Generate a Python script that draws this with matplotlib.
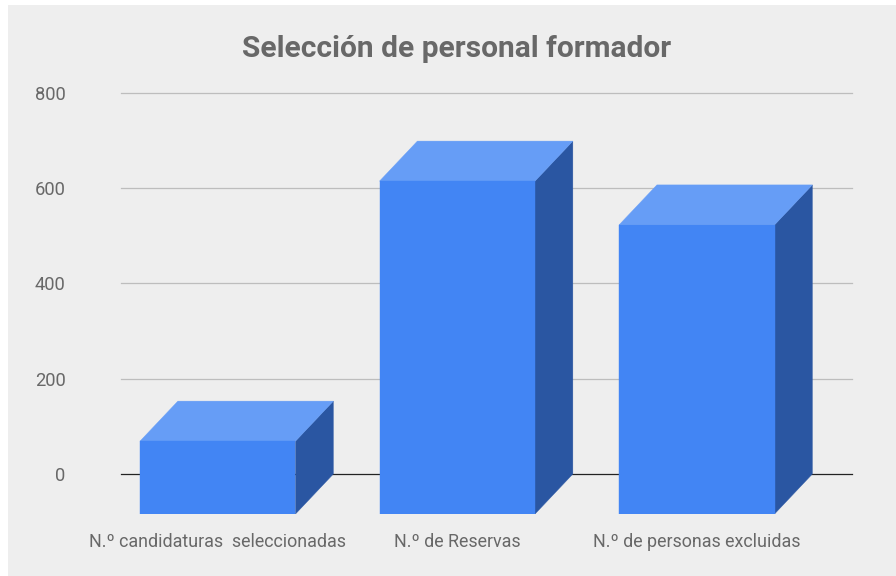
"""
plot.py — 3D-looking bar chart for the trainer selection figures.
"""

import matplotlib
matplotlib.use("Agg")
import matplotlib.pyplot as plt
from matplotlib.patches import Polygon, Rectangle

OUT_PNG = "out.png"
W, H = 896, 576

CATEGORIES = ["N.º candidaturas  seleccionadas", "N.º de Reservas", "N.º de personas excluidas"]
VALUES = [69, 615, 523]
Y_TICKS = [0, 200, 400, 600, 800]

BG = "#eeeeee"
TEXT = "#686868"
FRONT = "#4285f4"
TOP = "#669df6"
SIDE = "#2a56a2"

BAR_WIDTH = 0.649
DEPTH_X = 0.158
DEPTH_Y = 84
BASE = -84


def main():
    plt.rcParams["font.family"] = ["Roboto", "DejaVu Sans"]

    fig = plt.figure(figsize=(W / 100, H / 100), dpi=100, facecolor="white")
    # grey panel runs off the right and bottom edges, white strip left and top
    fig.add_artist(Rectangle((8 / W, 0), 888 / W, 1 - 5 / H, transform=fig.transFigure,
                             facecolor=BG, edgecolor="none", zorder=-1))

    ax = fig.add_axes([121 / W, 1 - 514 / H, 731 / W, 421 / H])
    ax.patch.set_visible(False)
    ax.set_xlim(-0.404, 2.648)
    ax.set_ylim(BASE, 800)
    for s in ax.spines.values():
        s.set_visible(False)

    for t in Y_TICKS:
        ax.axhline(t, color="#222222" if t == 0 else "#bdbdbd", linewidth=0.9, zorder=1, clip_on=False)

    for i, v in enumerate(VALUES):
        x0 = i - BAR_WIDTH / 2
        x1 = i + BAR_WIDTH / 2
        ax.add_patch(Polygon([(x1, BASE), (x1 + DEPTH_X, BASE + DEPTH_Y),
                              (x1 + DEPTH_X, v + DEPTH_Y), (x1, v)],
                             facecolor=SIDE, edgecolor=SIDE, linewidth=0.3, zorder=3))
        ax.add_patch(Polygon([(x0, v), (x1, v), (x1 + DEPTH_X, v + DEPTH_Y), (x0 + DEPTH_X, v + DEPTH_Y)],
                             facecolor=TOP, edgecolor=TOP, linewidth=0.3, zorder=3))
        ax.add_patch(Rectangle((x0, BASE), BAR_WIDTH, v - BASE, facecolor=FRONT, edgecolor=FRONT,
                               linewidth=0.3, zorder=4))

    ax.set_xticks(range(len(CATEGORIES)))
    ax.set_xticklabels(CATEGORIES, fontsize=12.9, color=TEXT)
    ax.set_yticks(Y_TICKS)
    ax.set_yticklabels([str(t) for t in Y_TICKS], fontsize=13.2, color=TEXT)
    ax.tick_params(length=0)
    ax.tick_params(axis="x", pad=13.8)
    ax.tick_params(axis="y", pad=39.8)

    fig.text(457 / W, 1 - 49 / H, "Selección de personal formador", ha="center", va="center",
             fontsize=21.5, fontweight="bold", color=TEXT)

    plt.savefig(OUT_PNG, dpi=100, facecolor=fig.get_facecolor())
    print(f"Saved {OUT_PNG}")


if __name__ == "__main__":
    main()
